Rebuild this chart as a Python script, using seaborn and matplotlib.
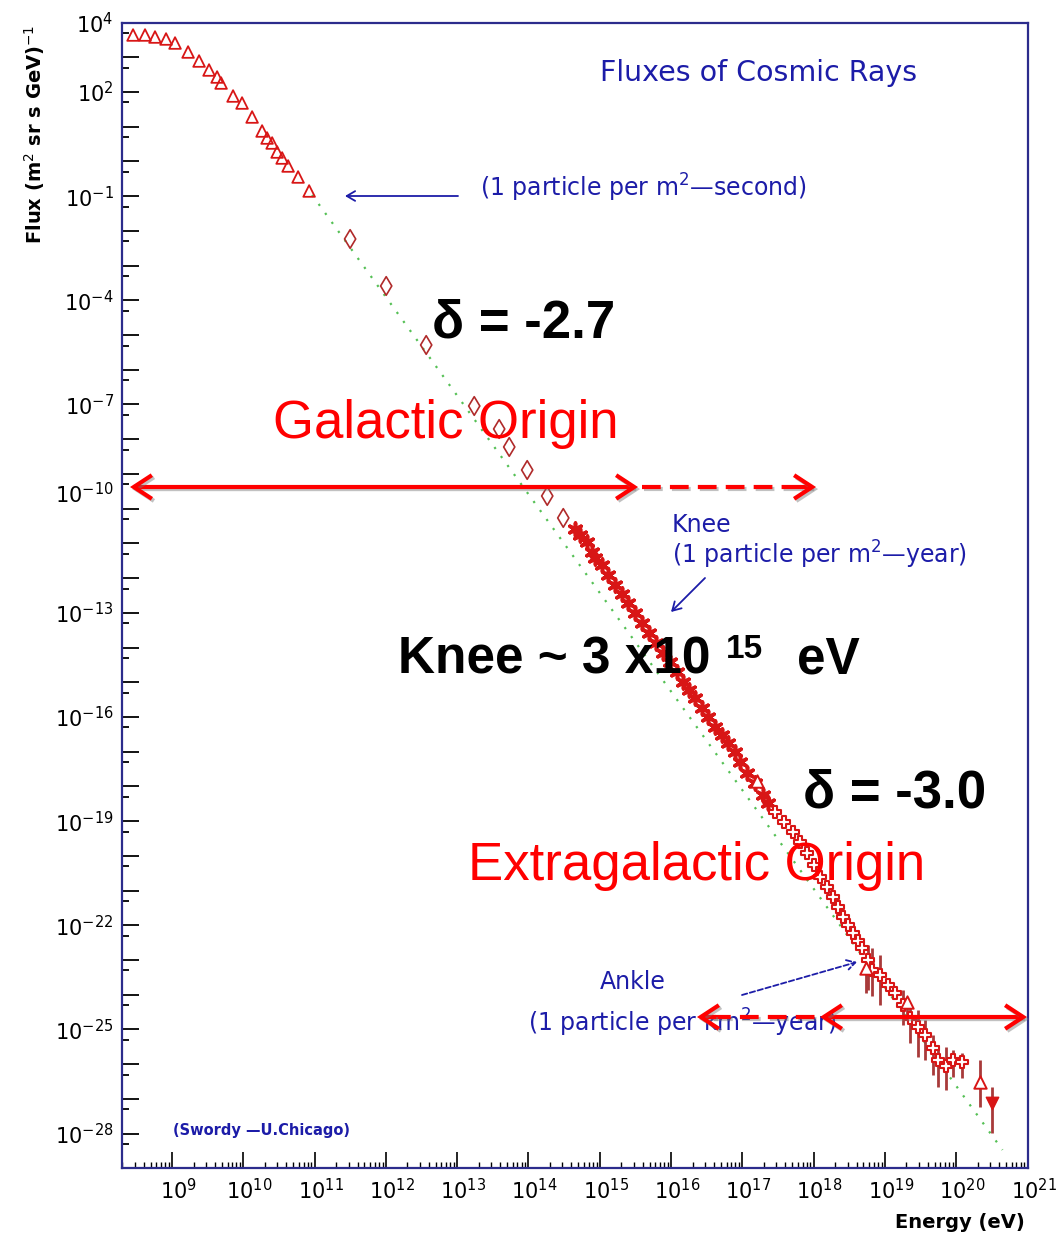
import numpy as np
import matplotlib
matplotlib.use("Agg")
import matplotlib.pyplot as plt
import seaborn as sns
from matplotlib.patches import FancyArrowPatch
from matplotlib.lines import Line2D
from matplotlib import patheffects as pe
from matplotlib.ticker import FixedLocator, FixedFormatter
from matplotlib.transforms import ScaledTranslation

# ---------------- data: log10 E [eV], log10 flux [(m^2 sr s GeV)^-1] ----------------
direct_log_e = [8.453, 8.621, 8.761, 8.916, 9.042, 9.225, 9.379, 9.519, 9.632, 9.688,
                9.856, 9.982, 10.123, 10.263, 10.333, 10.404, 10.474, 10.544, 10.628,
                10.768, 10.923]
direct_log_f = [3.643, 3.643, 3.585, 3.528, 3.412, 3.153, 2.894, 2.635, 2.433, 2.260,
                1.886, 1.684, 1.281, 0.878, 0.676, 0.532, 0.273, 0.100, -0.130,
                -0.447, -0.850]

balloon_log_e = [11.498, 12.004, 12.565, 13.239, 13.589, 13.730, 13.982, 14.263, 14.488]
balloon_log_f = [-2.233, -3.586, -5.286, -7.043, -7.705, -8.223, -8.886, -9.635, -10.268]

shower_log_e = [14.656, 14.726, 14.825, 14.895, 14.937, 15.035, 15.119, 15.218, 15.316,
                15.400, 15.498, 15.596, 15.695, 15.793, 15.891, 15.989, 16.088, 16.172,
                16.256, 16.340, 16.439, 16.523, 16.621, 16.719, 16.804, 16.902, 16.972,
                17.070, 17.182, 17.295, 17.365]
shower_log_f = [-10.585, -10.758, -10.960, -11.248, -11.421, -11.622, -11.910, -12.198,
                -12.457, -12.717, -13.005, -13.293, -13.581, -13.869, -14.157, -14.416,
                -14.704, -14.992, -15.222, -15.453, -15.741, -16.000, -16.288, -16.518,
                -16.749, -17.008, -17.296, -17.613, -17.901, -18.247, -18.477]

uhe_log_e = [17.463, 17.589, 17.716, 17.814, 17.912, 18.011, 18.095, 18.193, 18.277,
             18.347, 18.418, 18.488, 18.558, 18.628, 18.684, 18.768, 18.825, 18.937,
             19.049, 19.147, 19.260, 19.358, 19.470, 19.568, 19.681, 19.751, 19.863,
             19.961, 20.088]
uhe_log_f = [-18.736, -19.024, -19.312, -19.600, -19.917, -20.263, -20.608, -20.896,
             -21.184, -21.472, -21.760, -21.991, -22.221, -22.452, -22.653, -22.999,
             -23.287, -23.431, -23.719, -23.949, -24.295, -24.669, -24.929, -25.159,
             -25.533, -25.879, -26.052, -25.879, -25.936]
uhe_err_lo = [0, 0, 0, 0, 0, 0, 0, 0, 0, 0, 0, 0, 0, 0, 0, 0.86, 0.75, 0.86, 0, 0,
              0.58, 0.72, 0.86, 0.72, 0.78, 0.78, 0.69, 0.49, 0.46]
uhe_err_hi = [0, 0, 0, 0, 0, 0, 0, 0, 0, 0, 0, 0, 0, 0, 0, 0.43, 0.63, 0.58, 0, 0,
              0.43, 0.37, 0.49, 0.43, 0.37, 0.43, 0.55, 0.29, 0.26]

tri_log_e = [17.211, 18.740, 19.316, 20.340]
tri_log_f = [-17.843, -23.229, -24.220, -26.513]
tri_err_lo = [0, 0.72, 0.52, 0.72]
tri_err_hi = [0, 0.20, 0.10, 0.63]

top_log_e = [20.509]
top_log_f = [-27.118]
top_err_lo = [0.86]
top_err_hi = [0.46]

ref_log_e = [10.965, 20.649]
ref_log_f = [-0.965, -28.471]

x_tick_exp = list(range(9, 22))
y_label_exp = [4, 2, -1, -4, -7, -10, -13, -16, -19, -22, -25, -28]

# ---------------- style ----------------
sns.set_style("white")
plt.rcParams["font.family"] = ["DejaVu Sans"]
plt.rcParams["mathtext.fontset"] = "dejavusans"
for key in ("text.color", "axes.labelcolor", "xtick.color", "ytick.color"):
    plt.rcParams[key] = "black"

W, H = 1063, 1234
RED = "#d81616"
DARK_RED = "#b02a2a"
ERR = "#a83a3a"
GREEN = "#55c055"
BLUE = "#1c1ca8"
FRAME = "#2c2c8c"

fig = plt.figure(figsize=(W / 100, H / 100), dpi=100)
fig.patch.set_facecolor("white")
ax = fig.add_axes([122 / W, 1 - 1168.3 / H, 905.5 / W, 1145.7 / H])
ax.set_xscale("log")
ax.set_yscale("log")


def pw(a):
    return 10.0 ** np.asarray(a, dtype=float)


# reference power law
sns.lineplot(x=pw(ref_log_e), y=pw(ref_log_f), ax=ax, color=GREEN, lw=1.6,
             linestyle=(0, (1, 4)), estimator=None, sort=False, zorder=2)


def error_bars(le, lf, lo, hi):
    e, f = pw(le), pw(lf)
    lo, hi = np.asarray(lo), np.asarray(hi)
    m = (lo > 0) | (hi > 0)
    ax.vlines(e[m], f[m] * 10.0 ** (-lo[m]), f[m] * 10.0 ** hi[m],
              color=ERR, lw=2.0, zorder=3)


error_bars(uhe_log_e, uhe_log_f, uhe_err_lo, uhe_err_hi)
error_bars(tri_log_e, tri_log_f, tri_err_lo, tri_err_hi)
error_bars(top_log_e, top_log_f, top_err_lo, top_err_hi)

sns.scatterplot(x=pw(direct_log_e), y=pw(direct_log_f), ax=ax, marker="^", s=70,
                color=RED, facecolor="none", edgecolor=RED, linewidth=1.3,
                legend=False, zorder=4)
sns.scatterplot(x=pw(balloon_log_e), y=pw(balloon_log_f), ax=ax, marker="d", s=90,
                color=DARK_RED, facecolor="none", edgecolor=DARK_RED, linewidth=1.2,
                legend=False, zorder=4)
sns.scatterplot(x=pw(shower_log_e), y=pw(shower_log_f), ax=ax, marker=(6, 2, 0), s=85,
                color=RED, linewidth=2.6, legend=False, zorder=4)
sns.scatterplot(x=pw(uhe_log_e), y=pw(uhe_log_f), ax=ax, marker="P", s=75,
                color=RED, facecolor="white", edgecolor=RED, linewidth=1.5,
                legend=False, zorder=4)
sns.scatterplot(x=pw(tri_log_e), y=pw(tri_log_f), ax=ax, marker="^", s=80,
                color=RED, facecolor="white", edgecolor=RED, linewidth=1.4,
                legend=False, zorder=5)
sns.scatterplot(x=pw(top_log_e), y=pw(top_log_f), ax=ax, marker="v", s=80,
                color=RED, edgecolor=RED, linewidth=1.0, legend=False, zorder=5)

ax.set_xlim(10 ** 8.298, 1e21)
ax.set_ylim(1e-29, 1e4)
ax.set_xlabel("")
ax.set_ylabel("")

# ---------------- axes, ticks ----------------
for sp in ax.spines.values():
    sp.set_color(FRAME)
    sp.set_linewidth(1.6)

ax.xaxis.set_major_locator(FixedLocator(10.0 ** np.array(x_tick_exp)))
ax.xaxis.set_major_formatter(FixedFormatter([f"$10^{{{k}}}$" for k in x_tick_exp]))
ax.xaxis.set_minor_locator(FixedLocator([m * 10.0 ** k for k in range(8, 21) for m in range(2, 10)]))

y_major = list(range(-28, 5))
ax.yaxis.set_major_locator(FixedLocator(10.0 ** np.array(y_major, dtype=float)))
ax.yaxis.set_major_formatter(FixedFormatter(
    [f"$10^{{{k}}}$" if k in y_label_exp else "" for k in y_major]))
ax.yaxis.set_minor_locator(FixedLocator([5 * 10.0 ** k for k in range(-29, 4)]))

ax.tick_params(axis="both", which="both", direction="in", color="black",
               labelcolor="black", bottom=True, left=True, top=False, right=False)
ax.tick_params(axis="x", which="major", length=11.5, width=1.2, labelsize=15, pad=7)
ax.tick_params(axis="x", which="minor", length=4.5, width=1.0)
ax.tick_params(axis="y", which="major", length=12, width=1.3, labelsize=15, pad=6)
ax.tick_params(axis="y", which="minor", length=5, width=1.3)

shift = ScaledTranslation(6 / 100, 0, fig.dpi_scale_trans)
for lab in ax.get_xticklabels():
    lab.set_transform(lab.get_transform() + shift)
lift = ScaledTranslation(0, 16 / 100, fig.dpi_scale_trans)
for val, lab in zip(y_major, ax.get_yticklabels()):
    if val == -10:
        lab.set_transform(lab.get_transform() + lift)


def fpt(x, y):
    return (x / W, 1 - y / H)


fig.text(*fpt(35, 25), "Flux (m$^2$ sr s GeV)$^{-1}$", rotation=90, ha="center",
         va="top", fontsize=14, fontweight="bold")
fig.text(*fpt(1025, 1222), "Energy (eV)", ha="right", va="center", fontsize=14,
         fontweight="bold")

# ---------------- blue annotations ----------------
fig.text(*fpt(600, 73), "Fluxes of Cosmic Rays", color=BLUE, fontsize=20.5,
         ha="left", va="center")
fig.text(*fpt(480, 188), "(1 particle per m$^2$\u2014second)", color=BLUE,
         fontsize=17, ha="left", va="center")
fig.text(*fpt(672, 525), "Knee", color=BLUE, fontsize=17, ha="left", va="center")
fig.text(*fpt(672, 555), "(1 particle per m$^2$\u2014year)", color=BLUE, fontsize=17,
         ha="left", va="center")
fig.text(*fpt(600, 982), "Ankle", color=BLUE, fontsize=17, ha="left", va="center")
fig.text(*fpt(528, 1023), "(1 particle per km$^2$\u2014year)", color=BLUE, fontsize=17,
         ha="left", va="center")
fig.text(*fpt(173, 1130), "(Swordy \u2014U.Chicago)", color=BLUE, fontsize=10.5,
         fontweight="bold", ha="left", va="center")


def blue_arrow(start, end, ls="-"):
    a = FancyArrowPatch(fpt(*start), fpt(*end), transform=fig.transFigure,
                        arrowstyle="->,head_length=0.6,head_width=0.35",
                        mutation_scale=10, lw=1.3, color=BLUE, linestyle=ls,
                        shrinkA=0, shrinkB=0, zorder=6)
    fig.add_artist(a)


blue_arrow((458, 196), (345, 196))
blue_arrow((705, 578), (671, 612))
blue_arrow((742, 995), (857, 962), ls=(0, (3, 1.5)))

# ---------------- overlay statements ----------------
BIG = "Liberation Sans"
fig.text(*fpt(432, 338), "\u03b4 = -2.7", fontfamily=BIG, fontweight="bold",
         fontsize=38, color="black", ha="left", va="baseline", zorder=8)
fig.text(*fpt(273, 438), "Galactic Origin", fontfamily=BIG, fontsize=38,
         color="red", ha="left", va="baseline", zorder=8)
fig.text(*fpt(398, 673), "Knee ~ 3 x10", fontfamily=BIG, fontweight="bold",
         fontsize=37, color="black", ha="left", va="baseline", zorder=8)
fig.text(*fpt(726, 658), "15", fontfamily=BIG, fontweight="bold",
         fontsize=24, color="black", ha="left", va="baseline", zorder=8)
fig.text(*fpt(797, 673), "eV", fontfamily=BIG, fontweight="bold",
         fontsize=37, color="black", ha="left", va="baseline", zorder=8)
fig.text(*fpt(803, 808), "\u03b4 = -3.0", fontfamily=BIG, fontweight="bold",
         fontsize=38, color="black", ha="left", va="baseline", zorder=8)
fig.text(*fpt(468, 880), "Extragalactic Origin", fontfamily=BIG, fontsize=38,
         color="red", ha="left", va="baseline", zorder=8)

shadow = [pe.SimpleLineShadow(offset=(1.5, -1.5), shadow_color="#777777", alpha=0.45),
          pe.Normal()]
HEAD = "head_length=1.3,head_width=0.85"


def red_arrow(start, end, style):
    a = FancyArrowPatch(fpt(*start), fpt(*end), transform=fig.transFigure,
                        arrowstyle=f"{style},{HEAD}", mutation_scale=10, lw=3.0,
                        color="red", shrinkA=0, shrinkB=0, zorder=9,
                        path_effects=shadow, capstyle="butt", joinstyle="miter")
    fig.add_artist(a)


def red_dash(start, end):
    (x0, y0), (x1, y1) = fpt(*start), fpt(*end)
    ln = Line2D([x0, x1], [y0, y1], transform=fig.transFigure, lw=3.0, color="red",
                linestyle=(0, (4.5, 2.2)), dash_capstyle="butt", zorder=9,
                path_effects=shadow)
    fig.add_artist(ln)


# galactic range
red_arrow((130, 487), (638, 487), "<->")
red_dash((642, 487), (806, 487))
red_arrow((800, 487), (816, 487), "->")
# extragalactic range
red_dash((712, 1017), (818, 1017))
red_arrow((716, 1017), (697, 1017), "->")
red_arrow((820, 1017), (1027, 1017), "<->")

fig.savefig("out.png", dpi=100, facecolor="white")
